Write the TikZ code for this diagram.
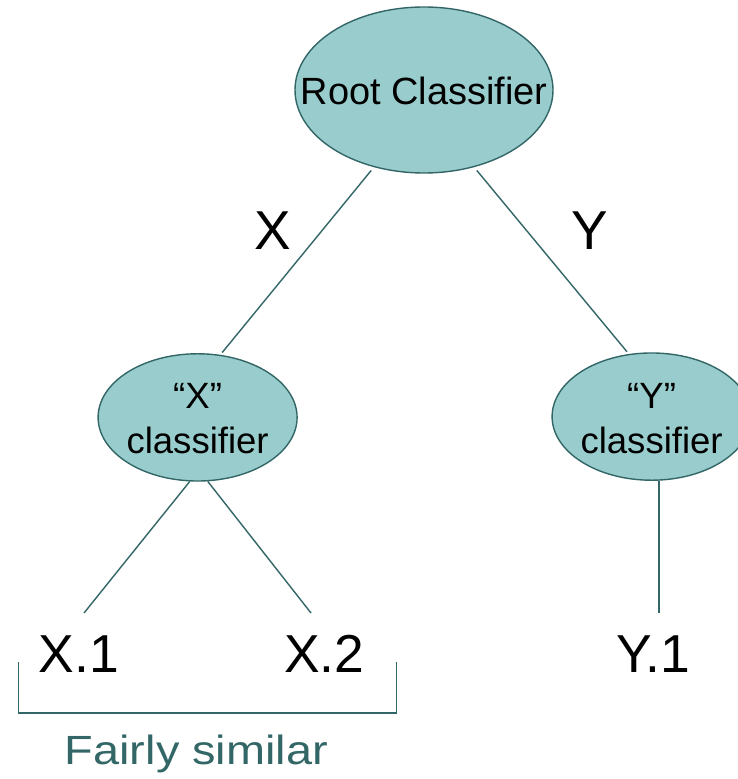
\documentclass[tikz,border=0pt]{standalone}
\usepackage{fontspec}
\setmainfont{Liberation Sans}
\usetikzlibrary{shapes.geometric}

\definecolor{clsfill}{HTML}{99CCCC}
\definecolor{clsline}{HTML}{336666}

% text inside an ellipse, kept out of the shape's size
\newcommand{\clstext}[1]{\makebox[0pt]{\raisebox{-3.6pt}[\height][\depth]{\begin{tabular}{@{}c@{}}#1\end{tabular}}}}

\tikzset{
  classifier/.style={ellipse, draw=clsline, fill=clsfill, line width=1pt,
    inner sep=0pt, font=\fontsize{26}{32}\selectfont},
  branch/.style={inner sep=0pt, font=\fontsize{39}{46}\selectfont},
  leaf/.style={inner sep=0pt, font=\fontsize{38}{46}\selectfont},
  treeedge/.style={draw=clsline, line width=1pt},
  groupnote/.style={text=clsline, font=\fontsize{29}{34}\selectfont}
}

\begin{document}
\begin{tikzpicture}
          \useasboundingbox (0,0) rectangle (18.45,19.475);

          % classifiers
          \node[classifier, minimum width=6.45cm, minimum height=4.15cm,
            font=\fontsize{27}{32}\selectfont] (root) at (10.6,17.225)
            {\clstext{Root Classifier}};
          \node[classifier, minimum width=4.975cm, minimum height=3.025cm]
            (xcls) at (4.94,9.04) {\clstext{“X”\\classifier}};
          \node[classifier, minimum width=4.975cm, minimum height=3.025cm]
            (ycls) at (16.29,9.06) {\clstext{“Y”\\classifier}};

          % branch labels
          \node[branch] (xlab) at (6.81,13.7) {X};
          \node[branch] (ylab) at (14.75,13.7) {Y};

          % leaves
          \node[leaf] (x1) at (1.975,3.125) {X.1};
          \node[leaf] (x2) at (8.11,3.125) {X.2};
          \node[leaf] (y1) at (16.33,3.125) {Y.1};
          \coordinate (x1top) at (2.1,4.15);
          \coordinate (x2top) at (7.775,4.15);
          \coordinate (y1top) at (16.475,4.15);

          % tree edges
          \draw[treeedge, shorten <=3pt, shorten >=2pt] (root.237) -- (xcls.70);
          \draw[treeedge, shorten <=3pt, shorten >=2pt] (root.303) -- (ycls.110);
          \draw[treeedge] (xcls.263) -- (x1top);
          \draw[treeedge] (xcls.279) -- (x2top);
          \draw[treeedge] (y1top |- ycls.south) -- (y1top);

          % bracket under the X leaves
          \coordinate (brl) at (0.46,2.93);
          \coordinate (brr) at (9.91,2.93);
          \draw[treeedge] (brl) -- ++(0,-1.28) -| (brr);
          \node[groupnote, anchor=base] (similar) at (4.91,0.35)
            {\scalebox{1.15}[1]{Fairly similar}};
\end{tikzpicture}
\end{document}
